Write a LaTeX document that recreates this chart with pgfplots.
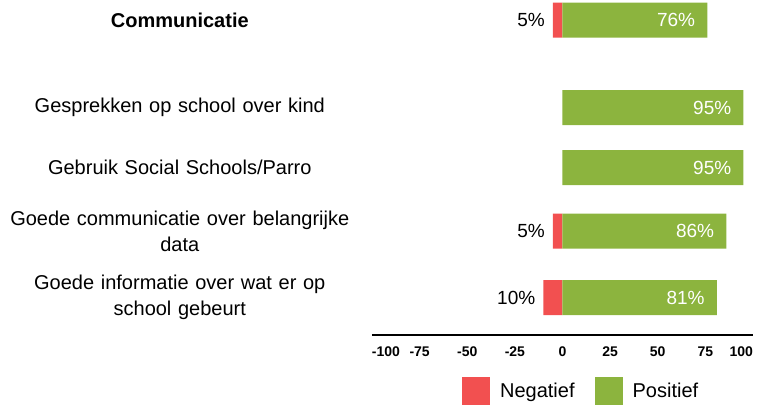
\documentclass[border=0pt]{standalone}
\usepackage{fontspec}
\setmainfont{Liberation Sans}
\usepackage{pgfplots}
\pgfplotsset{compat=1.18}
\definecolor{pos}{RGB}{140,180,62}
\definecolor{neg}{RGB}{242,80,80}
\begin{document}
\begin{tikzpicture}
\path[use as bounding box] (-372pt,-72pt) rectangle (389pt,335pt);
\begin{axis}[
  at={(0pt,0pt)}, anchor=south west, scale only axis,
  width=381pt, height=335pt,
  xmin=-100, xmax=100, ymin=0, ymax=335, y dir=reverse,
  xbar, bar width=35, bar shift=0pt,
  axis x line*=bottom, axis y line*=left,
  x axis line style={-, black, line width=2pt},
  y axis line style={draw=none},
  major tick length=0pt,
  xtick={-100,-75,-50,-25,0,25,50,75,100},
  xticklabels={{\makebox[0pt][l]{-100}},-75,-50,-25,0,25,50,75,{\makebox[0pt][r]{100}}},
  xticklabel style={font=\fontsize{14}{16}\selectfont\bfseries, inner sep=0pt, yshift=-12pt},
  ytick={20,107.5,167.5,231,297.5},
  yticklabels={{\textbf{Communicatie}}, Gesprekken op school over kind, Gebruik Social Schools/Parro, {Goede communicatie over belangrijke\\data}, {Goede informatie over wat er op\\school gebeurt}},
  yticklabel style={text width=350pt, align=center, inner sep=0pt, xshift=-17pt, font=\fontsize{20}{26}\selectfont},
  legend columns=2,
  legend style={at={(axis cs:-52.8,391)}, anchor=west, draw=none, inner sep=0pt,
    font=\fontsize{20}{24}\selectfont,
    /tikz/every even column/.append style={column sep=18pt}},
  legend image code/.code={\fill[#1] (0pt,-14pt) rectangle (28pt,14pt); \path (36pt,0pt);},
]
\addplot[fill=neg, draw=none, nodes near coords, point meta=explicit symbolic,
  every node near coord/.append style={anchor=east, inner sep=0pt, xshift=-8pt, text=black, font=\fontsize{19}{22}\selectfont}]
  coordinates {(-5,20)[5\%] (-5,231)[5\%] (-10,297.5)[10\%]};
\addlegendentry{Negatief}
\addplot[fill=pos, draw=none, nodes near coords, point meta=explicit symbolic,
  every node near coord/.append style={anchor=east, inner sep=0pt, xshift=-12pt, text=white, font=\fontsize{19}{22}\selectfont}]
  coordinates {(76,20)[76\%] (95,107.5)[95\%] (95,167.5)[95\%] (86,231)[86\%] (81,297.5)[81\%]};
\addlegendentry{Positief}
\end{axis}
\end{tikzpicture}
\end{document}
